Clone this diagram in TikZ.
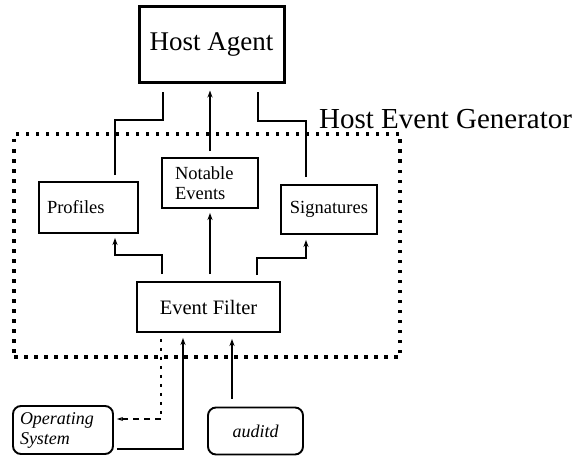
\documentclass[tikz,border=0pt]{standalone}
\usepackage{fontspec}
\setmainfont{Liberation Serif}
\usetikzlibrary{arrows.meta,calc}
\tikzset{
  box/.style={draw, line width=1.9pt, inner sep=0pt},
  bigbox/.style={draw, line width=3pt, minimum width=145pt, minimum height=76pt, inner sep=0pt},
  rbox/.style={draw, line width=1.9pt, rounded corners=8pt, inner sep=0pt},
  conn/.style={line width=1.9pt},
  arr/.style={line width=1.9pt, -{Stealth[length=7pt,width=5pt]}},
  dotbox/.style={draw, line width=3.3pt, dash pattern=on 3.5pt off 6.5pt, inner sep=0pt},
  dotline/.style={line width=2.8pt, dash pattern=on 3pt off 6pt},
  dashline/.style={line width=1.9pt, dash pattern=on 6pt off 5pt},
  small/.style={font=\fontsize{18.5}{20}\selectfont},
}
\begin{document}
\begin{tikzpicture}[x=1pt,y=1pt]
\useasboundingbox (0,0) rectangle (578,456);
% nodes
\node[bigbox, font=\fontsize{27}{30}\selectfont] (ha) at (211.5,411) {Host Agent};
\node[dotbox, minimum width=386pt, minimum height=223pt] (heg) at (207,210.5) {};
\node[anchor=base west, inner sep=0pt, font=\fontsize{29}{31}\selectfont] (hegl) at (319,327) {Host Event Generator};
\node[box, small, minimum width=99pt, minimum height=51pt, text width=83pt, align=left] (prof) at (88.5,248.5) {Profiles};
\node[box, small, minimum width=96pt, minimum height=50pt, text width=70pt, align=left] (nt) at (210,273) {Notable\\Events};
\node[box, small, minimum width=96pt, minimum height=49pt] (sig) at (329,246.5) {Signatures};
\node[box, font=\fontsize{20.5}{22}\selectfont, minimum width=143pt, minimum height=50pt] (ef) at (208.5,149) {Event Filter};
\node[rbox, font=\itshape\fontsize{18}{20}\selectfont, minimum width=100pt, minimum height=48pt, text width=86pt, align=left] (os) at (63,26) {Operating\\System};
\node[rbox, font=\itshape\fontsize{18}{20}\selectfont, minimum width=95pt, minimum height=47pt] (aud) at (255.5,25) {auditd};
% connectors to host agent
\draw[conn] ([xshift=26.5pt,yshift=6pt]prof.north) -- ++(0,55) -| ([xshift=-48.5pt,yshift=-8pt]ha.south);
\draw[arr] ([yshift=6pt]nt.north) -- ([yshift=-6pt]nt.north |- ha.south);
\draw[conn] ([xshift=-23pt,yshift=7pt]sig.north) -- ++(0,56) -| ([xshift=46.5pt,yshift=-8pt]ha.south);
% event filter to boxes
\draw[arr] ([xshift=-46.5pt,yshift=7pt]ef.north) -- ++(0,19) -| ([xshift=26.5pt,yshift=-4pt]prof.south);
\draw[arr] ([yshift=7pt]ef.north -| nt.south) -- ([yshift=-4pt]nt.south);
\draw[arr] ([xshift=48.5pt,yshift=6pt]ef.north) -- ++(0,17) -| ([xshift=-23pt,yshift=-5pt]sig.south);
% bottom connectors
\coordinate (oscorner) at (161,37);
\draw[dotline] ([xshift=-47.5pt,yshift=-6pt]ef.south) -- (oscorner);
\draw[dashline, -{Stealth[length=6pt,width=4pt]}] (oscorner) -- ([xshift=3pt,yshift=11pt]os.east);
\draw[arr] ([xshift=3pt,yshift=-19pt]os.east) -| ([xshift=-25.5pt,yshift=-5pt]ef.south);
\draw[arr] ([xshift=-23.5pt,yshift=8pt]aud.north) -- ([xshift=23.5pt,yshift=-6pt]ef.south);
\end{tikzpicture}
\end{document}
